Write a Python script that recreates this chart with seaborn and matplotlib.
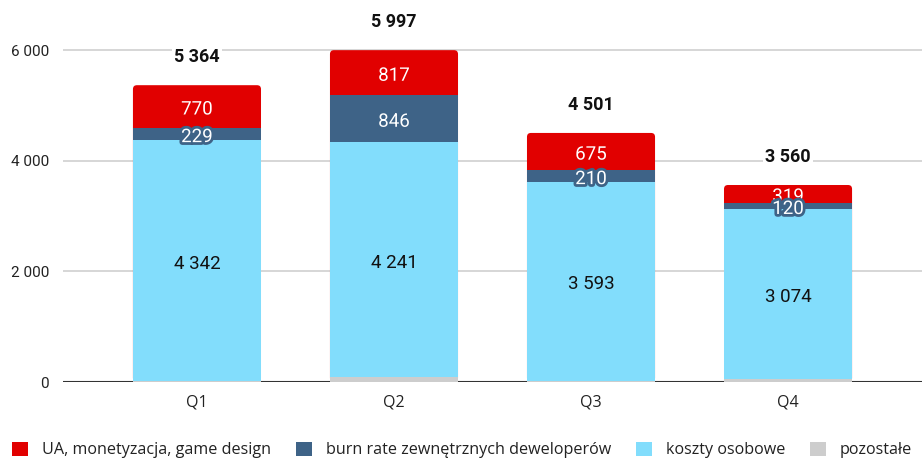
import matplotlib
matplotlib.use("Agg")
import matplotlib.pyplot as plt
import matplotlib.patheffects as pe
from matplotlib.patches import Patch, FancyBboxPatch
from matplotlib.ticker import FuncFormatter
import numpy as np
import pandas as pd
import seaborn as sns

# Quarterly cost structure
quarters = ["Q1", "Q2", "Q3", "Q4"]
pozostale = [23, 93, 23, 47]
koszty_osobowe = [4342, 4241, 3593, 3074]
burn_rate = [229, 846, 210, 120]
ua_monetyzacja = [770, 817, 675, 319]
totals = [5364, 5997, 4501, 3560]

series_names = [
    "UA, monetyzacja, game design",
    "burn rate zewnętrznych deweloperów",
    "koszty osobowe",
    "pozostałe",
]
colors = {
    "UA, monetyzacja, game design": "#E10000",
    "burn rate zewnętrznych deweloperów": "#3E6387",
    "koszty osobowe": "#82DDFC",
    "pozostałe": "#CDCDCD",
}

sns.set_theme(style="white")
plt.rcParams["font.family"] = ["Roboto", "DejaVu Sans"]

df = pd.DataFrame({
    "quarter": quarters,
    "pozostałe": pozostale,
    "koszty osobowe": koszty_osobowe,
    "burn rate zewnętrznych deweloperów": burn_rate,
    "UA, monetyzacja, game design": ua_monetyzacja,
})
stack_order = ["pozostałe", "koszty osobowe",
               "burn rate zewnętrznych deweloperów", "UA, monetyzacja, game design"]
cum = df[stack_order].cumsum(axis=1)

fig = plt.figure(figsize=(9.22, 4.61), dpi=100)
ax = fig.add_axes([63 / 922, (461 - 382) / 461, 1 - 63 / 922, 382 / 461])

ax.set_xlim(-0.68, 3.68)
ax.set_ylim(0, 382 / 332 * 6000)

# Stacked bars: draw cumulative heights from the top layer down
bar_width = 0.65
for name in reversed(stack_order):
    sns.barplot(x=df["quarter"], y=cum[name], color=colors[name],
                width=bar_width, saturation=1, linewidth=0, ax=ax, zorder=3)

# Rounded top corners on the outer (total-height) bars
top_bars = list(ax.patches[:len(quarters)])
for p in top_bars:
    bx, by = p.get_x(), p.get_y()
    bw, bh = p.get_width(), p.get_height()
    p.remove()
    ax.add_patch(FancyBboxPatch((bx, by), bw, bh,
                                boxstyle="round,pad=0,rounding_size=0.02",
                                mutation_aspect=3600, facecolor=p.get_facecolor(),
                                edgecolor="none", linewidth=0, zorder=2.9))

ax.set_xlim(-0.68, 3.68)
ax.set_ylim(0, 382 / 332 * 6000)
ax.set_xlabel("")
ax.set_ylabel("")

ax.set_yticks([0, 2000, 4000, 6000])
ax.yaxis.set_major_formatter(FuncFormatter(lambda v, p: f"{int(v):,}".replace(",", " ")))
ax.tick_params(axis="y", length=0, pad=10, labelsize=11, labelcolor="#222222")
ax.tick_params(axis="x", length=0, pad=9, labelsize=11.5, labelcolor="#222222")
for lbl in ax.get_xticklabels():
    lbl.set_fontfamily(["Open Sans", "DejaVu Sans"])

ax.grid(axis="y", color="#CFCFCF", linewidth=1.2, zorder=0)
ax.set_axisbelow(True)
for side in ["top", "right", "left", "bottom"]:
    ax.spines[side].set_visible(False)
ax.axhline(0, color="#333333", linewidth=1.5, zorder=2)

x = np.arange(len(quarters))

# Segment labels
seg_text = {
    "UA, monetyzacja, game design": "white",
    "burn rate zewnętrznych deweloperów": "white",
    "koszty osobowe": "#111111",
}
for name, tc in seg_text.items():
    for i in range(len(quarters)):
        top = cum[name].iloc[i]
        val = df[name].iloc[i]
        mid = top - val / 2
        effects = []
        if tc == "white":
            effects = [pe.withStroke(linewidth=4, foreground=colors[name])]
        ax.annotate(f"{val:,}".replace(",", " "), (x[i], mid), xytext=(0, -3),
                    textcoords="offset pixels", ha="center", va="center",
                    fontsize=13.5, color=tc, zorder=6, path_effects=effects)

# Totals above bars
for i, t in enumerate(totals):
    ax.annotate(f"{t:,}".replace(",", " "), (x[i], t), xytext=(0, 28),
                textcoords="offset pixels",
                ha="center", va="center", fontsize=13, fontweight="bold",
                color="#111111", zorder=6,
                bbox=dict(boxstyle="square,pad=0.1", fc="white", ec="none"))

handles = [Patch(facecolor=colors[n], edgecolor="none") for n in series_names]
fig.legend(handles, series_names, loc="center left",
           bbox_to_anchor=(12 / 922, (461 - 450) / 461), ncol=4, frameon=False,
           borderpad=0, borderaxespad=0, handlelength=1.0, handleheight=1.0,
           handletextpad=0.85, columnspacing=1.55,
           prop={"family": ["Open Sans", "DejaVu Sans"], "size": 11.6},
           labelcolor="#222222")

fig.savefig("out.png", dpi=100)
